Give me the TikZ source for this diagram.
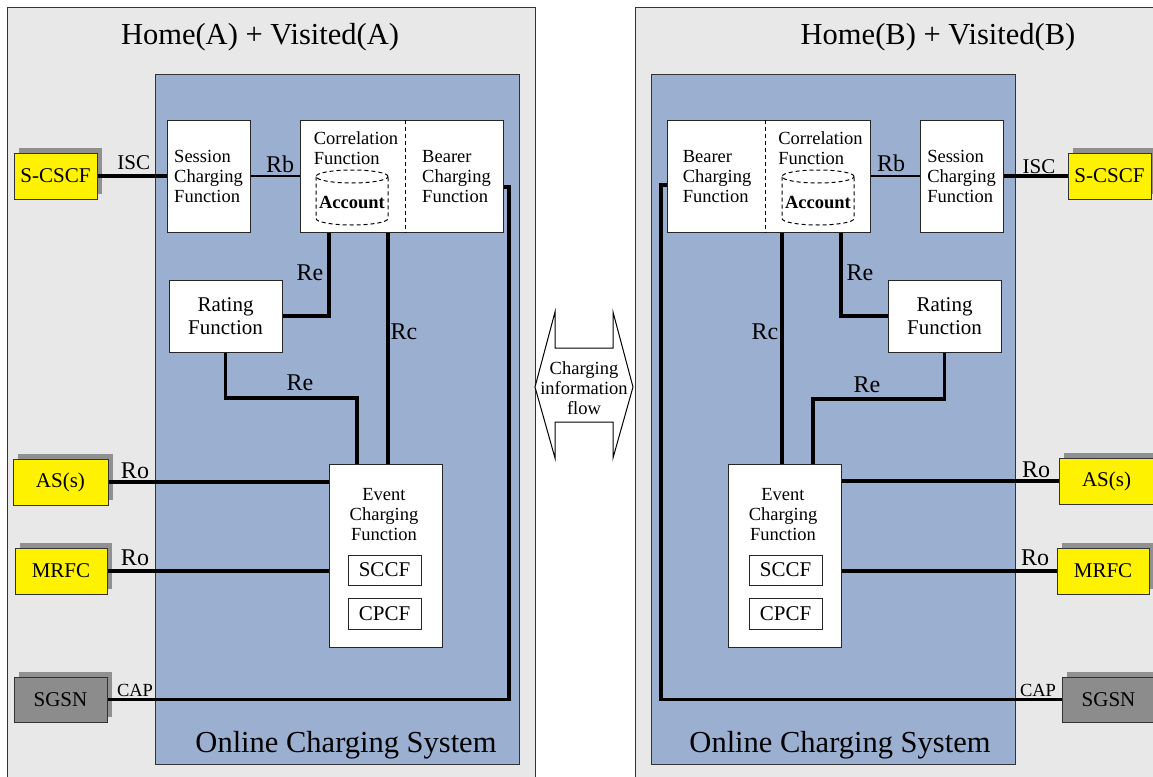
\documentclass[tikz,border=0pt]{standalone}
\usepackage{fontspec}
\setmainfont{Liberation Serif}
\usetikzlibrary{shadows}
\definecolor{panelgray}{RGB}{232,232,232}
\definecolor{ocsblue}{RGB}{155,175,208}
\definecolor{shadowgray}{RGB}{144,144,144}
\definecolor{sgsngray}{RGB}{140,140,140}
\newcommand\fsS{\fontsize{18.5}{20}\selectfont}
\newcommand\fsM{\fontsize{21}{23}\selectfont}
\newcommand\fsL{\fontsize{24}{26}\selectfont}
\newcommand\fsT{\fontsize{30.5}{33}\selectfont}
\tikzset{
  panel/.style={draw=black!80, fill=panelgray, line width=1pt},
  ocs/.style={draw=black!80, fill=ocsblue, line width=1pt},
  wbox/.style={draw=black!85, fill=white, line width=1pt, inner sep=0pt, align=left, font=\fsS},
  ext/.style={draw=black!80, line width=1pt, inner sep=0pt, font=\fsM,
    drop shadow={shadow xshift=5pt, shadow yshift=5pt, fill=shadowgray, opacity=1}},
  yext/.style={ext, fill=yellow},
  gext/.style={ext, fill=sgsngray},
  conn/.style={line width=3.3pt},
  lbl/.style={font=\fsL, inner sep=0pt},
  slbl/.style={font=\fsS, inner sep=0pt},
  txt/.style={font=\fsS, inner sep=0pt},
  acc/.style={dashed, dash pattern=on 4pt off 3pt, line width=1pt},
}
\begin{document}
\begin{tikzpicture}[x=1pt,y=-1pt]
\useasboundingbox (0,0) rectangle (1153,776);
% panels
\fill[white] (0,0) rectangle (1153,776);
\draw[panel] (7,8) rectangle (535,790);
\draw[panel] (635,8) rectangle (1170,790);
\draw[ocs] (155,74) rectangle (519,764);
\draw[ocs] (651,74) rectangle (1015,764);
\node[font=\fsT, anchor=base, inner sep=0pt] (titleA) at (260,45) {Home(A) + Visited(A)};
\node[font=\fsT, anchor=base, inner sep=0pt] (titleB) at (938,45) {Home(B) + Visited(B)};
\node[font=\fsT, anchor=base, inner sep=0pt] (ocsA) at (346,752) {Online Charging System};
\node[font=\fsT, anchor=base, inner sep=0pt] (ocsB) at (840,752) {Online Charging System};

% ---------------- left panel ----------------
\node[yext, minimum width=83pt, minimum height=46pt] (scscfA) at (55.5,176) {S-CSCF};
\node[yext, minimum width=95pt, minimum height=46pt] (asA) at (60.5,482) {AS(s)};
\node[yext, minimum width=92pt, minimum height=46pt] (mrfcA) at (61,571) {MRFC};
\node[gext, minimum width=93pt, minimum height=45pt] (sgsnA) at (60.5,699.5) {SGSN};

\node[wbox, minimum width=83pt, minimum height=112pt] (sessA) at (208.5,176) {Session\\Charging\\Function};
\node[wbox, minimum width=203pt, minimum height=112pt] (cbA) at (401.5,176) {};
\coordinate (divA) at (405,0);
\draw[acc] (cbA.north -| divA) -- (cbA.south -| divA);
\node[txt, align=left] (corrA) at (356,148) {Correlation\\Function};
\node[txt, align=left] (bearA) at (456.5,177) {Bearer\\Charging\\Function};
\draw[acc] (352,176.5) ellipse [x radius=36pt, y radius=6.5pt];
\draw[acc] (316,176.5) -- (316,218.5) arc[start angle=180, end angle=360, x radius=36pt, y radius=6.5pt] -- (388,176.5);
\node[txt, font=\fsS\bfseries] (acctA) at (352,203) {Account};

\node[wbox, font=\fsM, align=center, minimum width=113pt, minimum height=72pt] (ratA) at (225.5,316) {Rating\\Function};
\node[wbox, minimum width=113pt, minimum height=183pt] (ecfA) at (385.5,555.5) {};
\node[txt, align=center] (ecftA) at (384,515) {Event\\Charging\\Function};
\node[wbox, font=\fsM, minimum width=73pt, minimum height=30pt] (sccfA) at (384.5,570) {SCCF};
\node[wbox, font=\fsM, minimum width=73pt, minimum height=31pt] (cpcfA) at (384.5,613.5) {CPCF};

\coordinate (xreA) at (329,0);
\coordinate (xrcA) at (388,0);
\coordinate (xre2A) at (357,0);
\coordinate (yre2A) at (0,398);
\coordinate (xbearA) at (509,0);
\draw[conn] (scscfA.east) -- (sessA.west);
\draw[conn, line width=2.6pt] (sessA.east) -- (cbA.west);
\draw[conn] (ratA.east) -| (cbA.south -| xreA);
\draw[conn] (cbA.south -| xrcA) -- (ecfA.north -| xrcA);
\draw[conn] (ratA.south) |- (yre2A -| xre2A) -- (ecfA.north -| xre2A);
\draw[conn] (asA.east) -- (ecfA.west |- asA.east);
\draw[conn] (mrfcA.east) -- (ecfA.west |- mrfcA.east);
\draw[conn] ([yshift=-11pt]cbA.east) -| (sgsnA.east -| xbearA) -- (sgsnA.east);

\node[lbl, font=\fsM] (iscA) at (133.7,163) {ISC};
\node[lbl] (rbA) at (280,164) {Rb};
\node[lbl] (re1A) at (310,273) {Re};
\node[lbl] (rcA) at (404,332) {Rc};
\node[lbl] (re2A) at (300,383) {Re};
\node[lbl] (ro1A) at (135,471) {Ro};
\node[lbl] (ro2A) at (135,558) {Ro};
\node[slbl] (capA) at (135,690) {CAP};

% ---------------- right panel ----------------
\node[yext, minimum width=83pt, minimum height=46pt] (scscfB) at (1109.5,176) {S-CSCF};
\node[yext, minimum width=95pt, minimum height=46pt] (asB) at (1106.5,481) {AS(s)};
\node[yext, minimum width=92pt, minimum height=46pt] (mrfcB) at (1103,571) {MRFC};
\node[gext, minimum width=93pt, minimum height=45pt] (sgsnB) at (1108.5,699.5) {SGSN};

\node[wbox, minimum width=83pt, minimum height=112pt] (sessB) at (961.5,176) {Session\\Charging\\Function};
\node[wbox, minimum width=203pt, minimum height=112pt] (cbB) at (768.5,176) {};
\coordinate (divB) at (765,0);
\draw[acc] (cbB.north -| divB) -- (cbB.south -| divB);
\node[txt, align=left] (corrB) at (820.5,148) {Correlation\\Function};
\node[txt, align=left] (bearB) at (717,177) {Bearer\\Charging\\Function};
\draw[acc] (818,176.5) ellipse [x radius=36pt, y radius=6.5pt];
\draw[acc] (782,176.5) -- (782,218.5) arc[start angle=180, end angle=360, x radius=36pt, y radius=6.5pt] -- (854,176.5);
\node[txt, font=\fsS\bfseries] (acctB) at (818,203) {Account};

\node[wbox, font=\fsM, align=center, minimum width=113pt, minimum height=72pt] (ratB) at (944.5,316) {Rating\\Function};
\node[wbox, minimum width=113pt, minimum height=183pt] (ecfB) at (784.5,555.5) {};
\node[txt, align=center] (ecftB) at (783,515) {Event\\Charging\\Function};
\node[wbox, font=\fsM, minimum width=73pt, minimum height=30pt] (sccfB) at (785.5,570) {SCCF};
\node[wbox, font=\fsM, minimum width=73pt, minimum height=31pt] (cpcfB) at (785.5,613.5) {CPCF};

\coordinate (xreB) at (841,0);
\coordinate (xrcB) at (782,0);
\coordinate (xre2B) at (813,0);
\coordinate (yre2B) at (0,399);
\coordinate (xbearB) at (661,0);
\draw[conn] (scscfB.west) -- (sessB.east);
\draw[conn, line width=2.6pt] (sessB.west) -- (cbB.east);
\draw[conn] (ratB.west) -| (cbB.south -| xreB);
\draw[conn] (cbB.south -| xrcB) -- (ecfB.north -| xrcB);
\draw[conn] (ratB.south) |- (yre2B -| xre2B) -- (ecfB.north -| xre2B);
\draw[conn] (asB.west) -- (ecfB.east |- asB.west);
\draw[conn] (mrfcB.west) -- (ecfB.east |- mrfcB.west);
\draw[conn] ([yshift=-9pt]cbB.west) -| (sgsnB.west -| xbearB) -- (sgsnB.west);

\node[lbl, font=\fsM] (iscB) at (1039,167) {ISC};
\node[lbl] (rbB) at (891,163) {Rb};
\node[lbl] (re1B) at (860,273) {Re};
\node[lbl] (rcB) at (765,332) {Rc};
\node[lbl] (re2B) at (867,385) {Re};
\node[lbl] (ro1B) at (1036,470) {Ro};
\node[lbl] (ro2B) at (1035,558) {Ro};
\node[slbl] (capB) at (1038,690) {CAP};

% ---------------- middle arrow ----------------
\draw[fill=white, line width=1pt, line join=miter] (555,312) -- (535,387) -- (555,458) -- (555,422) -- (613,422) -- (613,458) -- (633,387) -- (613,312) -- (613,348) -- (555,348) -- cycle;
\node[txt, align=center] (cif) at (584,388) {Charging\\information\\flow};
\end{tikzpicture}
\end{document}
